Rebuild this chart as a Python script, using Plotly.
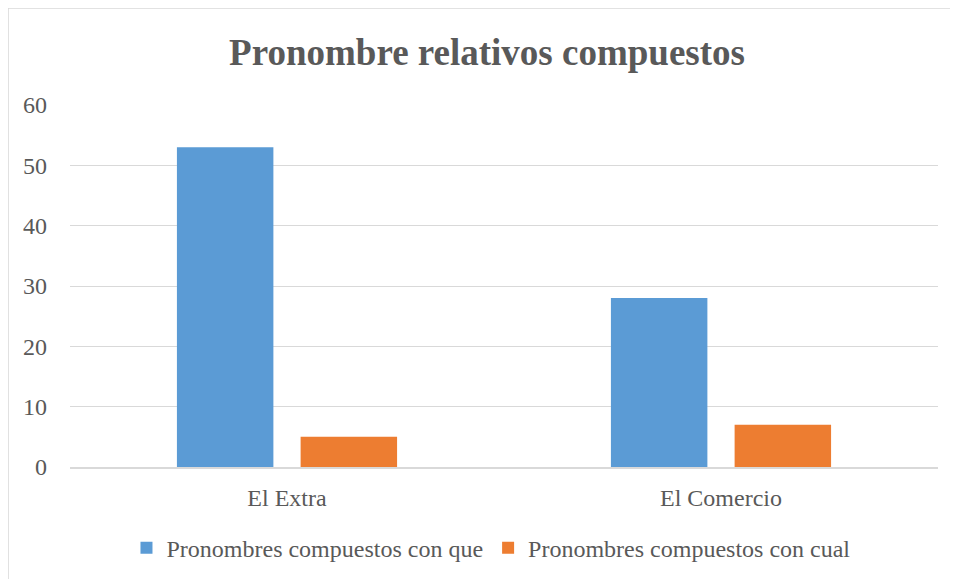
import plotly.graph_objects as go

categories = ["El Extra", "El Comercio"]
series_names = ["Pronombres compuestos con que", "Pronombres compuestos con cual"]
values_que = [53, 28]
values_cual = [5, 7]
colors = ["#5B9BD5", "#ED7D31"]

FONT = "Liberation Serif, Times New Roman, serif"
TXT = "#595959"

fig = go.Figure()
for name, vals, col in zip(series_names, [values_que, values_cual], colors):
    fig.add_trace(go.Bar(x=categories, y=vals, name=name, marker=dict(color=col, line=dict(width=0))))

fig.update_layout(
    width=958, height=579,
    margin=dict(l=62, r=28, t=97, b=120),
    paper_bgcolor="white", plot_bgcolor="white",
    barmode="group", bargap=0.43, bargroupgap=0.22,
    title=dict(text="<b>Pronombre relativos compuestos</b>", x=0.5, xanchor="center",
               y=1 - 44/579, yanchor="middle",
               font=dict(family=FONT, size=37, color=TXT)),
    font=dict(family=FONT, size=24, color=TXT),
    xaxis=dict(showgrid=False, showline=True, linecolor="#D9D9D9", linewidth=1.5,
               ticks="", ticklabelstandoff=8, tickfont=dict(size=24, color=TXT)),
    yaxis=dict(range=[0, 60], dtick=10, showgrid=True, gridcolor="#D9D9D9", gridwidth=1.3,
               zeroline=False, showline=False, ticks="", ticklabelstandoff=22,
               tickfont=dict(size=24, color=TXT)),
    legend=dict(orientation="h", x=0.485, xanchor="center", y=-0.224, yanchor="middle",
                font=dict(size=24, color=TXT), itemwidth=30, traceorder="normal"),
    showlegend=True,
)

# outer chart border (left and top visible)
fig.add_shape(type="line", xref="paper", yref="paper", x0=-0.0714, x1=-0.0714,
              y0=-0.4, y1=1.268, line=dict(color="#D9D9D9", width=1.5))
fig.add_shape(type="line", xref="paper", yref="paper", x0=-0.0714, x1=1.1,
              y0=1.268, y1=1.268, line=dict(color="#D9D9D9", width=1.5))

fig.write_html("out.html")
